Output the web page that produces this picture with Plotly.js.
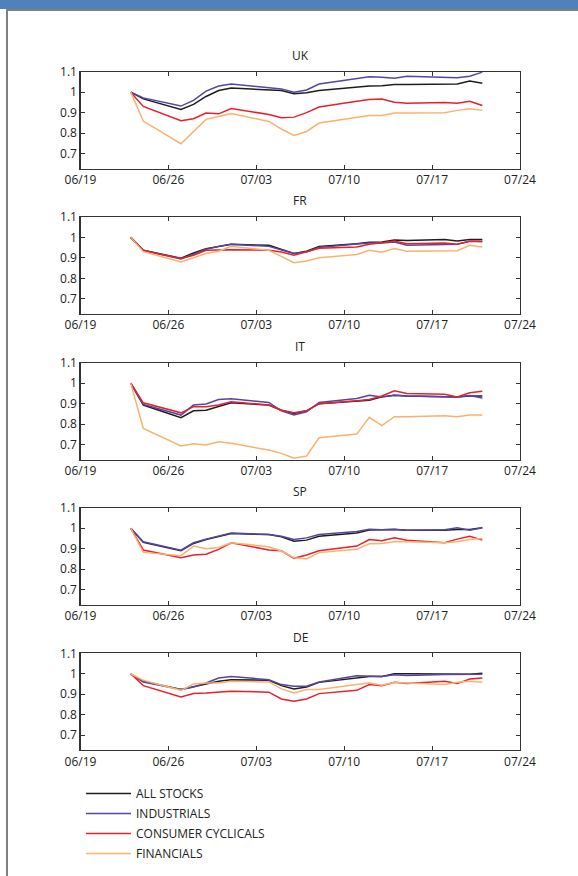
<!DOCTYPE html>
<html>
<head>
<meta charset="utf-8">
<script src="https://cdn.plot.ly/plotly-3.0.1.min.js"></script>
<style>
html,body{margin:0;padding:0;background:#fff;overflow:hidden;width:578px;height:876px;}
#chart{position:absolute;left:0;top:0;width:578px;height:876px;}
#bar{position:absolute;left:0;top:0;width:578px;height:9px;background:#4f81bd;z-index:5;}
#frame{position:absolute;left:6px;top:9px;width:572px;height:867px;border-left:2px solid #7f7f7f;border-top:2px solid #7f7f7f;box-sizing:border-box;z-index:5;pointer-events:none;}
</style>
</head>
<body>
<div id="chart"></div>
<div id="bar"></div>
<div id="frame"></div>
<script>
// Trading days
const dates = ['2016-06-23','2016-06-24','2016-06-27','2016-06-28','2016-06-29','2016-06-30','2016-07-01','2016-07-04','2016-07-05','2016-07-06','2016-07-07','2016-07-08','2016-07-11','2016-07-12','2016-07-13','2016-07-14','2016-07-15','2016-07-18','2016-07-19','2016-07-20','2016-07-21'];

const countries = ['UK','FR','IT','SP','DE'];
const seriesNames = ['ALL STOCKS','INDUSTRIALS','CONSUMER CYCLICALS','FINANCIALS'];
const xTickVals = ['2016-06-19','2016-06-26','2016-07-03','2016-07-10','2016-07-17','2016-07-24'];
const xTickText = ['06/19','06/26','07/03','07/10','07/17','07/24'];
const yTickVals = [0.7,0.8,0.9,1,1.1];
const yTickText = ['0.7','0.8','0.9','1','1.1'];

const ukAll = [1.0,0.967,0.915,0.94,0.979,1.008,1.02,1.013,1.008,0.992,0.997,1.008,1.024,1.03,1.031,1.037,1.037,1.04,1.04,1.054,1.044];
const ukInd = [1.0,0.972,0.932,0.96,1.005,1.03,1.04,1.024,1.016,1.0,1.011,1.04,1.068,1.075,1.073,1.068,1.078,1.07,1.07,1.078,1.098];
const ukCC  = [1.0,0.93,0.86,0.87,0.898,0.894,0.92,0.891,0.875,0.878,0.9,0.927,0.956,0.964,0.967,0.951,0.946,0.95,0.946,0.956,0.935];
const ukFin = [1.0,0.859,0.748,0.805,0.867,0.881,0.896,0.857,0.82,0.789,0.808,0.849,0.878,0.886,0.886,0.898,0.898,0.9,0.911,0.919,0.911];

const frAll = [1,0.937,0.898,0.924,0.944,0.956,0.966,0.961,0.94,0.921,0.932,0.956,0.969,0.976,0.977,0.987,0.985,0.989,0.982,0.99,0.99];
const frInd = [1,0.937,0.894,0.918,0.942,0.956,0.966,0.956,0.937,0.921,0.929,0.95,0.968,0.973,0.973,0.977,0.961,0.963,0.966,0.981,0.979];
const frCC  = [1,0.935,0.897,0.913,0.937,0.94,0.94,0.937,0.929,0.913,0.929,0.947,0.953,0.966,0.974,0.982,0.969,0.973,0.966,0.981,0.981];
const frFin = [1,0.93,0.88,0.902,0.921,0.932,0.956,0.937,0.905,0.876,0.884,0.9,0.916,0.937,0.927,0.945,0.932,0.934,0.935,0.961,0.953];

const itAll = [1,0.893,0.831,0.865,0.868,0.885,0.904,0.893,0.868,0.852,0.865,0.9,0.914,0.917,0.933,0.941,0.937,0.933,0.933,0.937,0.937];
const itInd = [1,0.896,0.844,0.893,0.898,0.92,0.924,0.906,0.865,0.844,0.86,0.906,0.925,0.941,0.933,0.941,0.937,0.933,0.933,0.94,0.927];
const itCC  = [1,0.904,0.855,0.885,0.885,0.893,0.909,0.893,0.868,0.855,0.865,0.9,0.914,0.92,0.937,0.963,0.95,0.946,0.933,0.953,0.961];
const itFin = [1,0.779,0.693,0.704,0.698,0.714,0.706,0.673,0.657,0.633,0.644,0.733,0.751,0.833,0.793,0.836,0.836,0.841,0.836,0.844,0.844];

const spAll = [1,0.931,0.89,0.926,0.945,0.961,0.974,0.969,0.958,0.937,0.942,0.961,0.977,0.992,0.992,0.994,0.99,0.99,0.994,0.994,1.003];
const spInd = [1,0.934,0.893,0.929,0.947,0.963,0.977,0.969,0.961,0.945,0.953,0.969,0.984,0.995,0.993,0.995,0.99,0.993,1.003,0.99,1.003];
const spCC  = [1,0.894,0.856,0.869,0.873,0.897,0.929,0.894,0.89,0.853,0.869,0.89,0.913,0.945,0.939,0.953,0.942,0.929,0.947,0.961,0.942];
const spFin = [1,0.882,0.866,0.913,0.9,0.906,0.929,0.91,0.889,0.856,0.85,0.881,0.897,0.924,0.926,0.934,0.934,0.929,0.934,0.945,0.95];

const deAll = [1,0.963,0.923,0.935,0.95,0.963,0.971,0.968,0.942,0.926,0.935,0.958,0.982,0.987,0.987,1.0,1.0,1.0,1.0,0.998,1.003];
const deInd = [1,0.96,0.923,0.935,0.955,0.979,0.987,0.971,0.947,0.939,0.939,0.96,0.99,0.99,0.987,0.995,0.992,0.997,0.997,0.998,0.998];
const deCC  = [1,0.942,0.887,0.903,0.906,0.911,0.915,0.91,0.877,0.866,0.877,0.903,0.919,0.947,0.942,0.958,0.952,0.963,0.952,0.974,0.979];
const deFin = [1,0.968,0.919,0.95,0.955,0.955,0.963,0.96,0.926,0.906,0.923,0.923,0.947,0.955,0.944,0.958,0.955,0.947,0.958,0.963,0.958];

const panelData = [
  [ukAll, ukInd, ukCC, ukFin],
  [frAll, frInd, frCC, frFin],
  [itAll, itInd, itCC, itFin],
  [spAll, spInd, spCC, spFin],
  [deAll, deInd, deCC, deFin]
];

const colors = ['#1e1e1e','#5446a2','#e8202c','#fbb26c'];

const W = 578, H = 876;
const FONT = 'Open Sans, Noto Sans, sans-serif';
const plotLeft = 80.5, plotRight = 520;
const panelTops = [71.7, 216.9, 362.7, 507.8, 653.3];
const panelH = 96.8;

const traces = [];
const layout = {
  width: W, height: H,
  margin: {l:0, r:0, t:0, b:0},
  paper_bgcolor: '#ffffff',
  plot_bgcolor: '#ffffff',
  font: {family: FONT, size: 12, color: '#222'},
  showlegend: true,
  legend: {
    x: 81/W, y: 1 - 779/H, xanchor: 'left', yanchor: 'top',
    font: {family: FONT, size: 12, color: '#222'},
    bgcolor: 'rgba(0,0,0,0)', itemwidth: 45, tracegroupgap: 1,
    traceorder: 'grouped'
  },
  annotations: []
};

countries.forEach((c, i) => {
  const idx = i === 0 ? '' : String(i+1);
  const top = panelTops[i], bot = top + panelH;
  panelData[i].forEach((vals, s) => {
    traces.push({
      type: 'scatter', mode: 'lines',
      x: dates, y: vals,
      xaxis: 'x' + idx, yaxis: 'y' + idx,
      name: seriesNames[s],
      legendgroup: seriesNames[s],
      showlegend: i === 0,
      line: {color: colors[s], width: 1.5},
      hoverinfo: 'skip'
    });
  });
  const axCommon = {
    showgrid: false, zeroline: false,
    showline: true, mirror: 'ticks', linecolor: '#333', linewidth: 1.2,
    ticks: 'inside', ticklen: 4, tickcolor: '#333', tickwidth: 1,
    tickfont: {family: FONT, size: 12, color: '#222'},
    fixedrange: true
  };
  layout['xaxis' + idx] = Object.assign({}, axCommon, {
    type: 'date', domain: [plotLeft/W, plotRight/W],
    range: ['2016-06-19', '2016-07-24'],
    tickmode: 'array', tickvals: xTickVals, ticktext: xTickText,
    anchor: 'y' + idx
  });
  layout['yaxis' + idx] = Object.assign({}, axCommon, {
    domain: [1 - bot/H, 1 - top/H],
    range: [0.627, 1.1],
    tickmode: 'array', tickvals: yTickVals, ticktext: yTickText,
    anchor: 'x' + idx
  });
  layout.annotations.push({
    text: c, xref: 'paper', yref: 'paper',
    x: (plotLeft + plotRight)/2/W, y: 1 - (top - 16)/H,
    xanchor: 'center', yanchor: 'middle', showarrow: false,
    font: {family: FONT, size: 12, color: '#222'}
  });
});

Plotly.newPlot('chart', traces, layout, {staticPlot: true, displayModeBar: false});
</script>
</body>
</html>
